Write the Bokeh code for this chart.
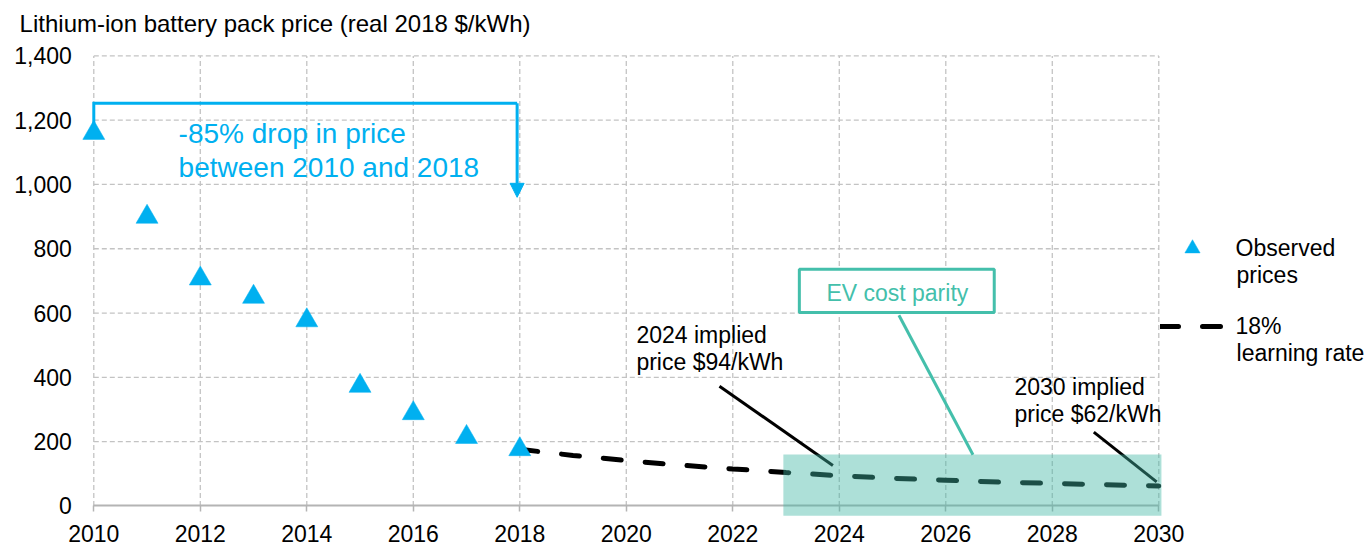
from bokeh.plotting import figure
from bokeh.models import (Range1d, FixedTicker, Label, BoxAnnotation, Arrow, NormalHead,
                          Legend, LegendItem, NumeralTickFormatter)
from bokeh.embed import file_html
from bokeh.resources import INLINE

# ---------------- data ----------------
obs_years = [2010, 2011, 2012, 2013, 2014, 2015, 2016, 2017, 2018]
obs_price = [1160, 899, 707, 650, 577, 373, 288, 214, 176]
proj_years = [2018, 2019, 2020, 2021, 2022, 2023, 2024, 2025, 2026, 2027, 2028, 2029, 2030]
proj_price = [176, 157, 141, 127, 115, 104, 94, 86, 80, 74, 70, 66, 62]
x_ticks = [2010, 2012, 2014, 2016, 2018, 2020, 2022, 2024, 2026, 2028, 2030]
y_ticks = [0, 200, 400, 600, 800, 1000, 1200, 1400]
parity_start, parity_end, parity_level = 2022.95, 2030.05, 160

FONT = "Liberation Sans"
CYAN = "#00B0F0"
TEAL = "#44BFAB"
GRID = "#C3C3C3"
AXIS = "#B4B4B4"

p = figure(width=1370, height=546, title_location=None,
           x_range=Range1d(2008.248, 2033.976), y_range=Range1d(-126.3, 1572.3),
           output_backend="svg", toolbar_location=None,
           min_border_left=0, min_border_right=0, min_border_top=0, min_border_bottom=0)
p.outline_line_color = None
p.grid.visible = False
p.background_fill_color = "white"
p.border_fill_color = "white"

# axes (placed at data locations inside the plot area)
p.xaxis.fixed_location = y_ticks[0]
p.xaxis.bounds = (x_ticks[0], x_ticks[-1])
p.xaxis.ticker = FixedTicker(ticks=x_ticks)
p.xaxis.minor_tick_line_color = None
p.xaxis.major_tick_in = 0
p.xaxis.major_tick_out = 6
p.xaxis.axis_line_color = AXIS
p.xaxis.axis_line_width = 2
p.xaxis.major_tick_line_color = AXIS
p.xaxis.major_tick_line_width = 1.5
p.xaxis.major_label_standoff = 13

p.yaxis.fixed_location = x_ticks[0]
p.yaxis.ticker = FixedTicker(ticks=y_ticks)
p.yaxis.formatter = NumeralTickFormatter(format="0,0")
p.yaxis.axis_line_color = None
p.yaxis.major_tick_line_color = None
p.yaxis.minor_tick_line_color = None
p.yaxis.major_tick_in = 0
p.yaxis.major_tick_out = 0
p.yaxis.major_label_standoff = 22

for ax in (p.xaxis, p.yaxis):
    ax.major_label_text_font = FONT
    ax.major_label_text_font_size = "23px"
    ax.major_label_text_color = "#000000"

# dashed gridlines
p.segment(x0=x_ticks, y0=[y_ticks[0]] * len(x_ticks), x1=x_ticks, y1=[y_ticks[-1]] * len(x_ticks),
          line_color=GRID, line_width=1.3, line_dash="5 3")
p.segment(x0=[x_ticks[0]] * (len(y_ticks) - 1), y0=y_ticks[1:],
          x1=[x_ticks[-1]] * (len(y_ticks) - 1), y1=y_ticks[1:],
          line_color=GRID, line_width=1.3, line_dash="5 3")

# projection line and observed prices
r_proj = p.line(proj_years, proj_price, line_color="black", line_width=5,
                line_dash="18 24", line_cap="round")
r_obs = p.scatter(obs_years, obs_price, marker="triangle", size=22,
                  fill_color=CYAN, line_color=CYAN, line_width=0.5)

# bracket "-85%"
p.line(x=[obs_years[0], obs_years[0], 2017.95], y=[1189.7, 1252.8, 1252.8],
       line_color=CYAN, line_width=3, line_join="miter")
p.add_layout(Arrow(end=NormalHead(size=14, fill_color=CYAN, line_color=CYAN, line_width=1),
                   x_start=2017.95, y_start=1252.8, x_end=2017.95, y_end=960,
                   line_color=CYAN, line_width=3))
p.add_layout(Label(x=2011.593, y=1208, text="-85% drop in price\nbetween 2010 and 2018",
                   text_font=FONT, text_font_size="28px", text_color=CYAN,
                   text_baseline="top", text_align="left", text_line_height=1.11))

# leader lines
p.segment(x0=[2021.75, 2028.78], y0=[372.4, 229.3], x1=[2023.88, 2029.96], y1=[125.7, 74.7],
          line_color="black", line_width=3)
p.segment(x0=[2025.12], y0=[593], x1=[2026.51], y1=[159], line_color=TEAL, line_width=3)

p.add_layout(Label(x=2020.19, y=571, text="2024 implied\nprice $94/kWh",
                   text_font=FONT, text_font_size="23px", text_color="black",
                   text_baseline="top", text_align="left", text_line_height=1.04))
p.add_layout(Label(x=2027.29, y=409, text="2030 implied\nprice $62/kWh",
                   text_font=FONT, text_font_size="23px", text_color="black",
                   text_baseline="top", text_align="left", text_line_height=1.04))

# EV cost parity box
p.add_layout(BoxAnnotation(left=2023.25, right=2026.91, bottom=602, top=736,
                           fill_color="white", fill_alpha=1.0,
                           line_color=TEAL, line_width=3, line_alpha=1.0))
p.add_layout(Label(x=2025.09, y=662, text="EV cost parity",
                   text_font=FONT, text_font_size="23px", text_color=TEAL,
                   text_baseline="middle", text_align="center"))

# shaded parity region (on top)
p.add_layout(BoxAnnotation(left=parity_start, right=parity_end, bottom=-31, top=parity_level,
                           fill_color="#40B8A5", fill_alpha=0.43, line_color=None))

# title
p.add_layout(Label(x=2008.607, y=1501, text="Lithium-ion battery pack price (real 2018 $/kWh)",
                   text_font=FONT, text_font_size="24px", text_color="black",
                   text_baseline="alphabetic", text_align="left"))

# legend
legend = Legend(items=[LegendItem(label="Observed", renderers=[r_obs]),
                       LegendItem(label="18%", renderers=[r_proj])],
                location=(1159.5, 201), glyph_width=64, glyph_height=38,
                label_standoff=12, spacing=40, padding=0, margin=0,
                border_line_color=None, background_fill_alpha=0,
                label_text_font=FONT, label_text_font_size="23px", label_text_color="black")
p.add_layout(legend)
p.add_layout(Label(x=2031.46, y=718, text="prices", text_font=FONT, text_font_size="23px",
                   text_color="black", text_baseline="alphabetic", text_align="left"))
p.add_layout(Label(x=2031.46, y=477, text="learning rate", text_font=FONT, text_font_size="23px",
                   text_color="black", text_baseline="alphabetic", text_align="left"))

open("out.html", "w").write(file_html(p, INLINE))
